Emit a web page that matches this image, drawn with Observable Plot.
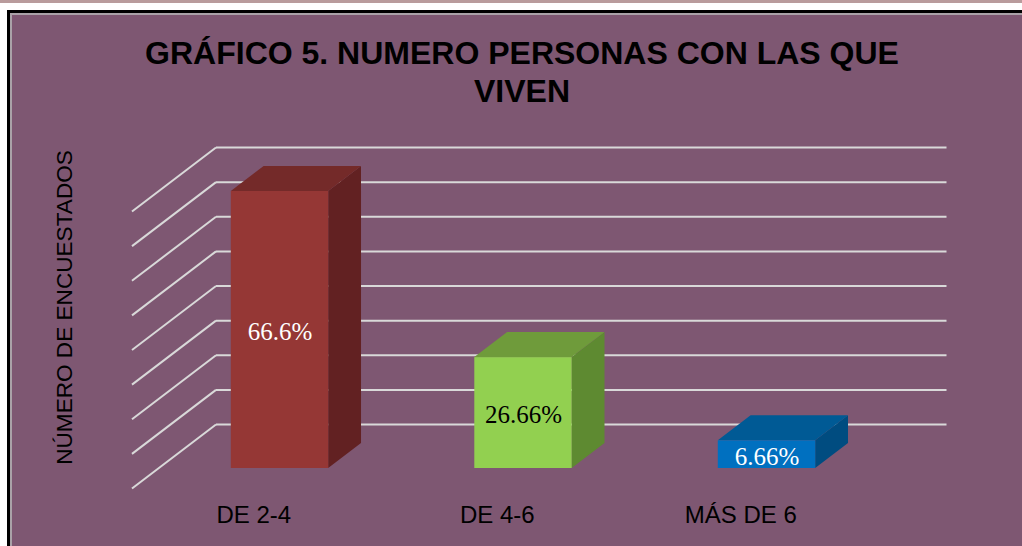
<!DOCTYPE html>
<html>
<head>
<meta charset="utf-8">
<script src="https://cdn.jsdelivr.net/npm/d3@7"></script>
<script src="https://cdn.jsdelivr.net/npm/@observablehq/plot@0.6"></script>
<style>
  html, body { margin: 0; padding: 0; background: #ffffff; }
  #wrap { position: relative; width: 1022px; height: 546px; overflow: hidden; background: #ffffff; }
  .abs { position: absolute; }
  #title { position: absolute; left: 22px; top: 34px; width: 1000px; text-align: center;
           font-family: "Liberation Sans", Arial, sans-serif; font-weight: bold; font-size: 32px;
           line-height: 38px; color: #000; }
  #chart { position: absolute; left: 0; top: 120px; }
</style>
</head>
<body>
<div id="wrap">
  <div class="abs" style="left:0;top:0;width:1022px;height:3px;background:#b99b9c"></div>
  <div class="abs" style="left:7px;top:10px;right:0;bottom:0;background:#000"></div>
  <div class="abs" style="left:10px;top:13px;right:0;bottom:0;background:#aaa2a8"></div>
  <div class="abs" style="left:12px;top:15px;right:0;bottom:0;background:#7e5772"></div>
  <div id="title">GRÁFICO 5. NUMERO PERSONAS CON LAS QUE<br>VIVEN</div>
  <div id="chart"></div>
</div>
<script>
// ---- data ----
const categories = ["DE 2-4", "DE 4-6", "MÁS DE 6"];
const values = [66.6, 26.66, 6.66];
const valueLabels = ["66.6%", "26.66%", "6.66%"];
const gridValues = [0, 8.325, 16.65, 24.975, 33.3, 41.625, 49.95, 58.275, 66.6];
const yTitle = "NÚMERO DE ENCUESTADOS";

// ---- styles ----
const frontColors = ["#953735", "#92d050", "#0070c0"];
const topColors = ["#742a29", "#6f9b3b", "#005a95"];
const sideColors = ["#622122", "#5e8a31", "#004c80"];
const labelColors = ["#ffffff", "#000000", "#ffffff"];

// ---- 3D oblique projection (in data units) ----
const pxPerX = 243.5, pxPerY = 277 / 66.6;
const KX = 84 / pxPerX, KY = 64 / pxPerY;   // full floor depth
const Z0 = 20 / 64, Z1 = 45 / 64;            // bar front / back depth
const HW = 0.2;                              // bar half width
const proj = (u, v, z) => ({x: u + KX * (z - Z0), y: v + KY * (z - Z0)});

const backGrid = gridValues.map(t => {
  const a = proj(-0.5, t, 1), b = proj(2.5, t, 1);
  return {x1: a.x, y1: a.y, x2: b.x, y2: b.y};
});
const sideGrid = gridValues.map(t => {
  const a = proj(-0.5, t, 0), b = proj(-0.5, t, 1);
  return {x1: a.x, y1: a.y, x2: b.x, y2: b.y};
});

const marks = [
  Plot.link(backGrid, {x1: "x1", y1: "y1", x2: "x2", y2: "y2", stroke: "#d9d9d9", strokeWidth: 2}),
  Plot.link(sideGrid, {x1: "x1", y1: "y1", x2: "x2", y2: "y2", stroke: "#d9d9d9", strokeWidth: 2})
];

const dz = Z1 - Z0;
categories.forEach((c, i) => {
  const u = i, v = values[i];
  const bars = [{x1: u - HW, x2: u + HW, y1: 0, y2: v}];
  const top = [
    {y: v, x1: u - HW, x2: u + HW},
    {y: v + KY * dz, x1: u - HW + KX * dz, x2: u + HW + KX * dz}
  ];
  const side = [
    {x: u + HW, y1: 0, y2: v},
    {x: u + HW + KX * dz, y1: KY * dz, y2: v + KY * dz}
  ];
  marks.push(
    Plot.areaY(side, {x: "x", y1: "y1", y2: "y2", fill: sideColors[i]}),
    Plot.areaX(top, {y: "y", x1: "x1", x2: "x2", fill: topColors[i]}),
    Plot.rect(bars, {x1: "x1", x2: "x2", y1: "y1", y2: "y2", fill: frontColors[i]}),
    Plot.text([{x: u, y: v / 2, t: valueLabels[i]}], {
      x: "x", y: "y", text: "t", fill: labelColors[i], fontSize: 25,
      fontFamily: "Liberation Serif, Times New Roman, serif", dy: 2
    })
  );
});

const catLabels = categories.map((c, i) => ({...proj(i, 0, 0), c}));
marks.push(
  Plot.text(catLabels, {x: "x", y: "y", text: "c", dy: 27, fontSize: 24,
    fontFamily: "Liberation Sans, Arial, sans-serif", fill: "#000"}),
  Plot.text([yTitle], {frameAnchor: "left", textAnchor: "middle", rotate: -90, dx: 28, dy: -22.5,
    fontSize: 22.6, fontFamily: "Liberation Sans, Arial, sans-serif", fill: "#000"})
);

const chart = Plot.plot({
  width: 1022,
  height: 426,
  marginLeft: 36,
  marginRight: 12,
  marginTop: 71,
  marginBottom: 78,
  x: {type: "linear", domain: [-1, 3], axis: null},
  y: {type: "linear", domain: [0, 66.6], axis: null},
  style: {background: "transparent", overflow: "visible"},
  marks
});
document.getElementById("chart").appendChild(chart);
</script>
</body>
</html>
